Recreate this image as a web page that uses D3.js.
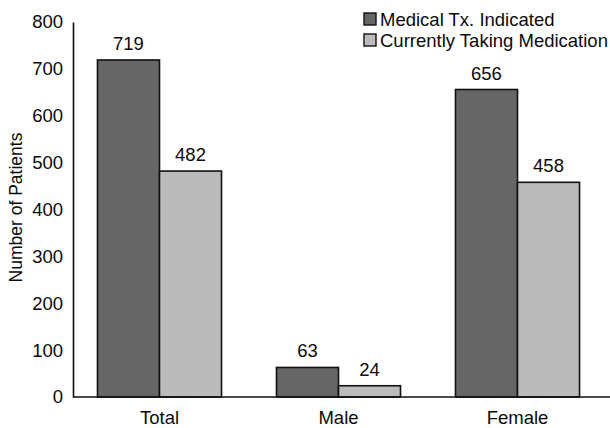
<!DOCTYPE html>
<html>
<head>
<meta charset="utf-8">
<script src="https://cdn.jsdelivr.net/npm/d3@7"></script>
<style>
  html, body { margin: 0; padding: 0; background: #fff; }
  svg { display: block; font-family: "Liberation Sans", Arial, sans-serif; }
</style>
</head>
<body>
<svg id="chart" width="610" height="428"></svg>
<script>
// Patient counts by group
const categories = ["Total", "Male", "Female"];
const seriesNames = ["Medical Tx. Indicated", "Currently Taking Medication"];
const indicated = [719, 63, 656];
const taking = [482, 24, 458];
const yTicks = [0, 100, 200, 300, 400, 500, 600, 700, 800];
const yTitle = "Number of Patients";

const colors = ["#666666", "#bbbbbb"];
const seriesValues = [indicated, taking];

const svg = d3.select("#chart");
const fontSize = 18.5;
const ink = "#0a0a0a";

const x = d3.scaleBand()
  .domain(categories)
  .range([70, 607])
  .paddingInner(0.307)
  .paddingOuter(0.1535);

const xSub = d3.scaleBand()
  .domain(seriesNames)
  .range([0, x.bandwidth()]);

const y = d3.scaleLinear()
  .domain([0, 800])
  .range([397, 22]);

// Bars
const rows = categories.map((c, i) => ({
  category: c,
  values: seriesNames.map((s, k) => ({ series: s, value: seriesValues[k][i], color: colors[k] }))
}));

const groups = svg.append("g").selectAll("g")
  .data(rows)
  .join("g")
  .attr("transform", d => `translate(${x(d.category)},0)`);

groups.selectAll("rect")
  .data(d => d.values)
  .join("rect")
  .attr("x", d => xSub(d.series))
  .attr("y", d => y(d.value))
  .attr("width", xSub.bandwidth())
  .attr("height", d => y(0) - y(d.value))
  .attr("fill", d => d.color)
  .attr("stroke", "#111")
  .attr("stroke-width", 1.6);

groups.selectAll("text")
  .data(d => d.values)
  .join("text")
  .attr("x", d => xSub(d.series) + xSub.bandwidth() / 2)
  .attr("y", d => y(d.value) - 10)
  .attr("text-anchor", "middle")
  .attr("font-size", fontSize)
  .attr("fill", ink)
  .text(d => d.value);

// Y axis
const yAxis = svg.append("g")
  .attr("transform", "translate(73,0)")
  .call(d3.axisLeft(y).tickValues(yTicks).tickSize(0).tickPadding(10).tickFormat(d3.format("d")));
yAxis.select(".domain").attr("stroke", "#111").attr("stroke-width", 1.6);
yAxis.selectAll(".tick text")
  .attr("font-size", fontSize)
  .attr("font-family", "Liberation Sans, Arial, sans-serif")
  .attr("fill", ink);

// X axis baseline and category labels
const xAxis = svg.append("g")
  .attr("transform", `translate(0,${y(0)})`)
  .call(d3.axisBottom(x).tickSize(0).tickPadding(14));
xAxis.select(".domain").remove();
xAxis.append("line")
  .attr("x1", 73).attr("x2", 610)
  .attr("y1", 0).attr("y2", 0)
  .attr("stroke", "#111").attr("stroke-width", 1.6);
xAxis.selectAll(".tick text")
  .attr("font-size", fontSize)
  .attr("font-family", "Liberation Sans, Arial, sans-serif")
  .attr("fill", ink);

// Y axis title
svg.append("text")
  .attr("transform", `translate(21.5,${(y(0) + y(800)) / 2 - 2}) rotate(-90)`)
  .attr("text-anchor", "middle")
  .attr("font-size", 17.5)
  .attr("fill", ink)
  .text(yTitle);

// Legend
const legend = svg.append("g").attr("transform", "translate(364,13)");
const items = legend.selectAll("g")
  .data(seriesNames)
  .join("g")
  .attr("transform", (d, i) => `translate(0,${i * 21})`);
items.append("rect")
  .attr("width", 12).attr("height", 12)
  .attr("fill", (d, i) => colors[i])
  .attr("stroke", "#111").attr("stroke-width", 1.4);
items.append("text")
  .attr("x", 16).attr("y", 12.5)
  .attr("font-size", fontSize)
  .attr("fill", ink)
  .text(d => d);
</script>
</body>
</html>
